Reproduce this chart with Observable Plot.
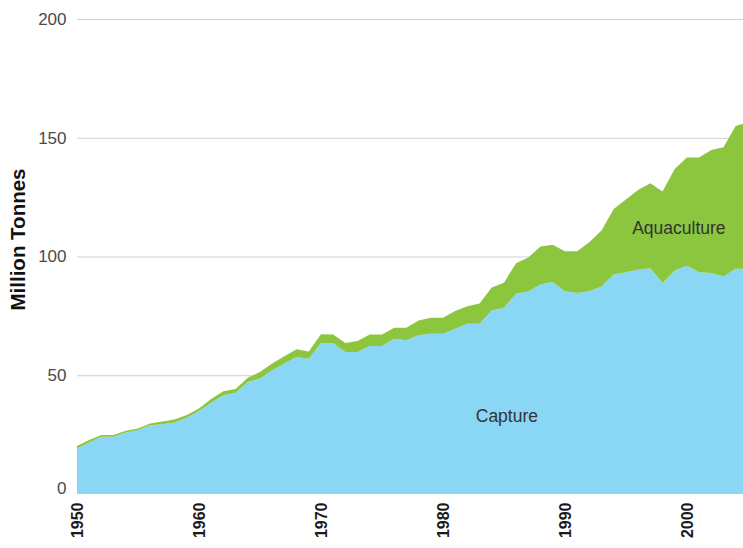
<!DOCTYPE html>
<html>
<head>
<meta charset="utf-8">
<script src="https://cdn.jsdelivr.net/npm/d3@7"></script>
<script src="https://cdn.jsdelivr.net/npm/@observablehq/plot@0.6"></script>
<style>
  html, body { margin: 0; padding: 0; background: #fff; }
  #chart svg { display: block; }
</style>
</head>
<body>
<div id="chart"></div>
<script>
const years = d3.range(1950, 2006);
const capture = [
  19.2, 21.7, 24.1, 24.1, 25.9, 26.8, 28.9, 29.4, 30.1, 32.1,
  34.9, 38.4, 41.6, 42.6, 47.2, 48.6, 52.1, 54.9, 57.7, 57.0,
  63.6, 63.6, 59.8, 59.8, 62.3, 62.3, 65.4, 64.7, 66.8, 67.5,
  67.5, 69.6, 71.7, 71.7, 77.3, 78.4, 84.3, 85.3, 88.2, 89.3,
  85.4, 84.6, 85.4, 87.4, 92.4, 93.4, 94.4, 95.1, 88.8, 94.1,
  96.1, 93.4, 93.1, 91.6, 94.8, 94.8
];
const aquaculture = [
  1.0, 1.0, 0.7, 0.7, 0.7, 0.8, 0.8, 1.1, 1.3, 1.2,
  1.1, 1.6, 1.7, 1.6, 1.8, 2.8, 2.8, 3.1, 3.3, 3.0,
  3.7, 3.6, 3.8, 4.6, 4.9, 4.9, 4.6, 5.3, 6.3, 6.7,
  6.7, 7.5, 7.4, 8.5, 9.7, 10.6, 12.9, 14.3, 16.0, 15.7,
  16.8, 17.6, 20.6, 23.5, 27.6, 30.6, 33.6, 35.7, 38.6, 42.7,
  45.6, 48.3, 51.7, 54.4, 60.2, 61.7
];
const seriesNames = ["Capture", "Aquaculture"];
const seriesColors = ["#8AD6F5", "#8CC63F"];
const xTicks = [1950, 1960, 1970, 1980, 1990, 2000];
const yTicks = [50, 100, 150, 200];
const yAxisTitle = "Million Tonnes";

const rows = [];
years.forEach((yr, i) => {
  rows.push({year: yr, series: "Capture", value: capture[i]});
  rows.push({year: yr, series: "Aquaculture", value: aquaculture[i]});
});

const labels = [
  {year: 1985.2, value: 33, text: "Capture"},
  {year: 1999.3, value: 112, text: "Aquaculture"}
];

const font = "'Liberation Sans', Arial, Helvetica, sans-serif";

const chart = Plot.plot({
  width: 743,
  height: 548,
  marginLeft: 77,
  marginRight: 0,
  marginTop: 19,
  marginBottom: 54,
  style: {fontFamily: font, background: "#fff"},
  x: {domain: [1950, 2004.6], label: null},
  y: {domain: [0, 200], label: null},
  color: {domain: seriesNames, range: seriesColors},
  marks: [
    Plot.gridY(yTicks, {stroke: "#cfcfcf", strokeOpacity: 1, strokeWidth: 1}),
    Plot.areaY(rows, Plot.stackY({
      x: "year", y: "value", fill: "series", order: seriesNames, clip: true
    })),
    Plot.axisY(yTicks, {
      tickSize: 0, tickPadding: 11, fontSize: 17, fill: "#4a4a4a",
      label: null
    }),
    Plot.text([0], {
      x: 1950, y: (d) => d, text: (d) => String(d), textAnchor: "end",
      dx: -11, dy: -6, fontSize: 17, fill: "#4a4a4a"
    }),
    Plot.axisX(xTicks, {
      tickSize: 0, tickPadding: 8, tickRotate: -90, fontSize: 16,
      fontWeight: "bold", fill: "#1a1a1a", tickFormat: (d) => String(d),
      label: null
    }),
    Plot.text(labels, {
      x: "year", y: "value", text: "text", fontSize: 17.5, fill: "#333"
    }),
    Plot.text([yAxisTitle], {
      frameAnchor: "left", textAnchor: "middle", dx: -59.5, dy: -17.5,
      rotate: -90, text: (d) => d,
      fontSize: 20.5, fontWeight: "bold", fill: "#111"
    })
  ]
});
document.getElementById("chart").appendChild(chart);
</script>
</body>
</html>
